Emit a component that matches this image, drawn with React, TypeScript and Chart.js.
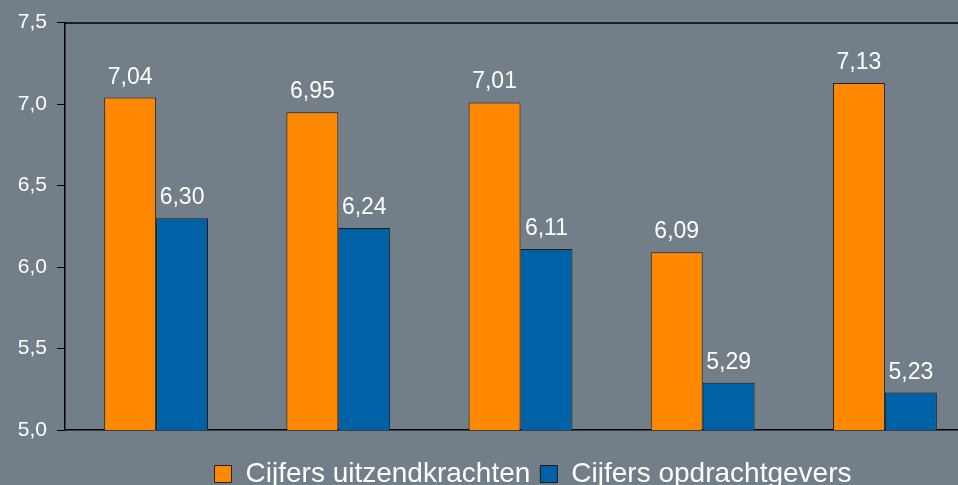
import React, { useEffect, useRef } from "react";
import { Chart, registerables } from "chart.js";

Chart.register(...registerables);

const categories = ["", "", "", "", ""];
const seriesNames = ["Cijfers uitzendkrachten", "Cijfers opdrachtgevers"];
const uitzendkrachten = [7.04, 6.95, 7.01, 6.09, 7.13];
const opdrachtgevers = [6.3, 6.24, 6.11, 5.29, 5.23];
const yMin = 5.0;
const yMax = 7.5;
const yStep = 0.5;

const FONT = "'Liberation Sans', Arial, Helvetica, sans-serif";
const BG = "#737f88";

const fmt = (v: number, d: number) => v.toFixed(d).replace(".", ",");

const valueLabels = {
  id: "valueLabels",
  afterDatasetsDraw(chart: any) {
    const ctx = chart.ctx;
    ctx.save();
    ctx.fillStyle = "#ffffff";
    ctx.font = `23px ${FONT}`;
    ctx.textAlign = "center";
    ctx.textBaseline = "alphabetic";
    chart.data.datasets.forEach((ds: any, i: number) => {
      const meta = chart.getDatasetMeta(i);
      meta.data.forEach((bar: any, j: number) => {
        ctx.fillText(fmt(ds.data[j], 2), bar.x, bar.y - 14);
      });
    });
    ctx.restore();
  },
};

const topLine = {
  id: "topLine",
  afterDraw(chart: any) {
    const { ctx, chartArea } = chart;
    ctx.save();
    ctx.strokeStyle = "#000000";
    ctx.lineWidth = 1.5;
    ctx.beginPath();
    ctx.moveTo(chartArea.left, chartArea.top + 0.5);
    ctx.lineTo(chartArea.right, chartArea.top + 0.5);
    ctx.stroke();
    ctx.restore();
  },
};

export default function App() {
  const ref = useRef<HTMLCanvasElement | null>(null);

  useEffect(() => {
    if (!ref.current) return;
    const chart = new Chart(ref.current, {
      type: "bar",
      data: {
        labels: categories,
        datasets: [
          {
            label: seriesNames[0],
            data: uitzendkrachten,
            backgroundColor: "#ff8800",
            borderColor: "#222222",
            borderWidth: 1,
            categoryPercentage: 0.57,
            barPercentage: 1,
          },
          {
            label: seriesNames[1],
            data: opdrachtgevers,
            backgroundColor: "#0062a6",
            borderColor: "#1a1a1a",
            borderWidth: 1,
            categoryPercentage: 0.57,
            barPercentage: 1,
          },
        ],
      },
      options: {
        animation: false,
        responsive: true,
        maintainAspectRatio: false,
        layout: { padding: { top: 22, left: 0, right: 0, bottom: 0 } },
        plugins: {
          tooltip: { enabled: false },
          legend: {
            position: "bottom",
            labels: {
              color: "#ffffff",
              font: { family: FONT, size: 28 },
              boxWidth: 17,
              boxHeight: 17,
              padding: 10,
            },
          },
        },
        scales: {
          x: {
            grid: { display: false },
            border: { display: true, color: "#000000", width: 1.5 },
            ticks: { display: false },
            afterFit: (s: any) => {
              s.height = 20;
            },
          },
          y: {
            min: yMin,
            max: yMax,
            ticks: {
              stepSize: yStep,
              color: "#ffffff",
              font: { family: FONT, size: 21 },
              padding: 10,
              callback: (v: any) => fmt(Number(v), 1),
            },
            grid: {
              display: true,
              drawOnChartArea: false,
              drawTicks: true,
              tickLength: 8,
              color: "#000000",
            },
            border: { display: true, color: "#000000", width: 1.5 },
            afterFit: (s: any) => {
              s.width = 65;
            },
          },
          yR: {
            position: "right",
            display: true,
            grid: { display: false },
            border: { display: false },
            ticks: { display: false },
            afterFit: (s: any) => {
              s.width = 90;
            },
          },
        },
      },
      plugins: [valueLabels, topLine],
    });
    return () => chart.destroy();
  }, []);

  return (
    <div
      style={{
        position: "fixed",
        left: 0,
        top: 0,
        width: 958,
        height: 485,
        overflow: "hidden",
        background: BG,
      }}
    >
      <div style={{ position: "relative", width: 1066, height: 498 }}>
        <canvas ref={ref} />
      </div>
    </div>
  );
}
